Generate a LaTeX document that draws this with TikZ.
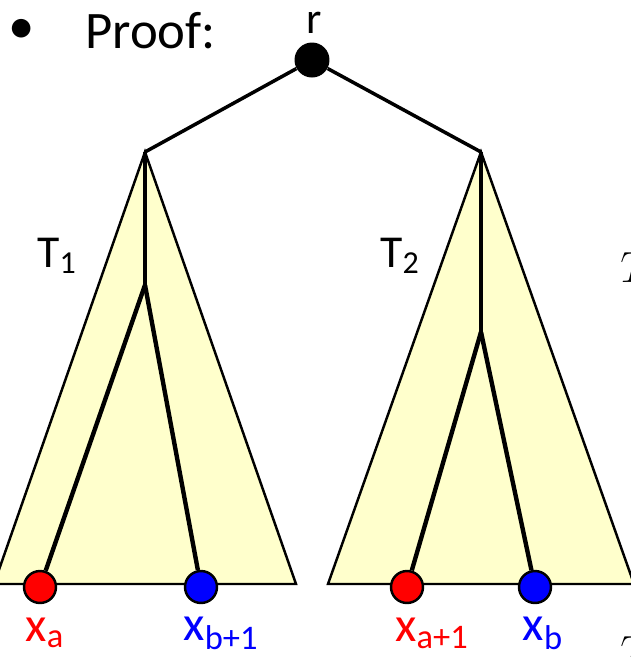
\documentclass[tikz,border=0pt]{standalone}
\usepackage{fontspec}
\setmainfont{Carlito}
\usepackage{xcolor}
\usetikzlibrary{positioning}
\definecolor{treefill}{RGB}{255,255,204}
\definecolor{leafred}{RGB}{255,0,0}
\definecolor{leafblue}{RGB}{0,0,255}
\tikzset{
    subtree/.style={draw=black, line width=1.4pt, fill=treefill, line join=miter},
    rootedge/.style={draw=black, line width=2pt},
    treeedge/.style={draw=black, line width=2.5pt},
    rootnode/.style={circle, fill=black, inner sep=0pt, minimum size=0.7cm},
    leafnode/.style={circle, draw=black, line width=1.4pt, inner sep=0pt, minimum size=0.64cm},
    redleaf/.style={leafnode, fill=leafred},
    blueleaf/.style={leafnode, fill=leafblue},
    leaflabel/.style={font=\fontsize{28}{32}\selectfont, inner sep=0pt},
    treelabel/.style={font=\fontsize{26}{30}\selectfont, inner sep=0pt},
}
\begin{document}
\begin{tikzpicture}[x=0.02cm, y=-0.02cm]
    \useasboundingbox (0,0) rectangle (630,657);

    % Heading
    \node[font=\fontsize{30}{34}\selectfont, inner sep=0pt] (dot) at (22,31) {•};
    \node[font=\fontsize{30}{34}\selectfont, inner sep=0pt, anchor=base west] (proof) at (85,48) {Proof:};

    % Root and subtree tops
    \node[rootnode] (r) at (312,60) {};
    \node[font=\fontsize{25}{28}\selectfont, inner sep=0pt, anchor=base] (rlabel) at (314,33) {r};
    \coordinate (top1) at (145,152);
    \coordinate (top2) at (481,152);

    % Subtree triangles
    \draw[subtree] (top1) -- (296,584) -- (-6,584) -- cycle;
    \draw[subtree] (top2) -- (634,584) -- (328,584) -- cycle;
    \node[treelabel] (t1) at (57,256) {T\textsubscript{1}};
    \node[treelabel] (t2) at (400,256) {T\textsubscript{2}};

    % Inner branch points
    \coordinate (mid1) at (145,285);
    \coordinate (mid2) at (481,332);

    % Leaves
    \node[redleaf] (xa) at (40,587) {};
    \node[blueleaf] (xb1) at (201,587) {};
    \node[redleaf] (xa1) at (407,587) {};
    \node[blueleaf] (xb) at (535,587) {};

    \node[leaflabel, text=leafred] (xalab) at (45,633) {x\textsubscript{a}};
    \node[leaflabel, text=leafblue] (xb1lab) at (221,633) {x\textsubscript{b+1}};
    \node[leaflabel, text=leafred] (xa1lab) at (432,633) {x\textsubscript{a+1}};
    \node[leaflabel, text=leafblue] (xblab) at (543,633) {x\textsubscript{b}};

    % Edges
    \draw[rootedge] (r) -- (top1);
    \draw[rootedge] (r) -- (top2);
    \draw[treeedge] (top1) -- (mid1);
    \draw[treeedge] (mid1) -- (xa);
    \draw[treeedge] (mid1) -- (xb1);
    \draw[treeedge] (top2) -- (mid2);
    \draw[treeedge] (mid2) -- (xa1);
    \draw[treeedge] (mid2) -- (xb);

    % Cut-off glyphs at the right edge
    \node[font=\fontsize{24}{28}\selectfont, inner sep=0pt, anchor=west] (tcut1) at (620,268) {$T$};
    \node[font=\fontsize{24}{28}\selectfont, inner sep=0pt, anchor=west] (tcut2) at (620,652) {$T$};
\end{tikzpicture}
\end{document}
